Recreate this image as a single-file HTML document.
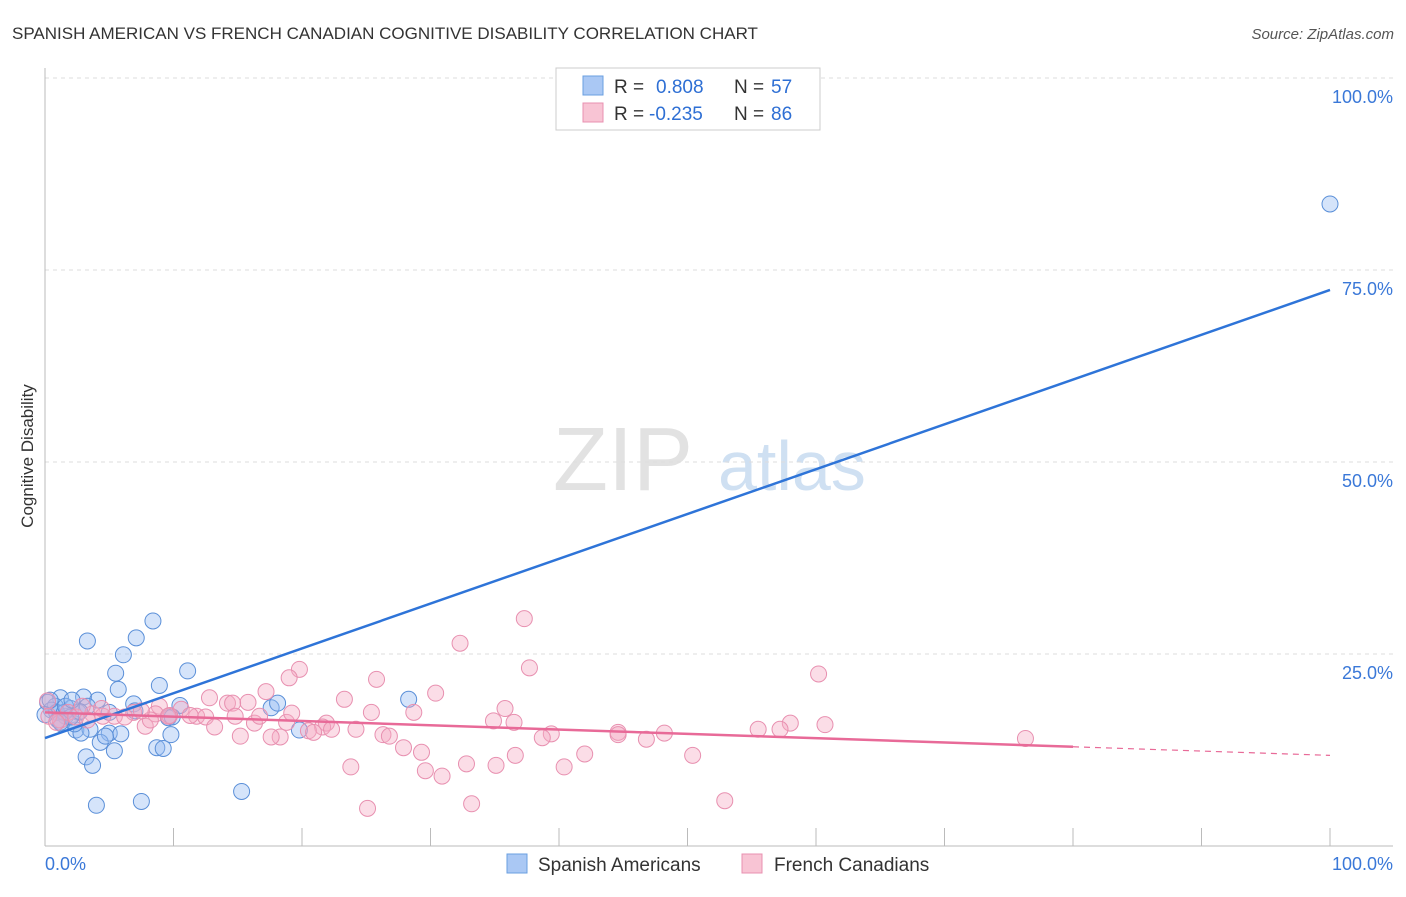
<!DOCTYPE html>
<html><head><meta charset="utf-8"><style>
body{margin:0;background:#fff;font-family:"Liberation Sans",sans-serif;}
svg text{font-family:"Liberation Sans",sans-serif;}
</style></head><body>
<svg id="c" width="1406" height="892">
<text x="12" y="39" font-size="17" fill="#333">SPANISH AMERICAN VS FRENCH CANADIAN COGNITIVE DISABILITY CORRELATION CHART</text>
<text x="1394" y="39" font-size="15" fill="#555" font-style="italic" text-anchor="end">Source: ZipAtlas.com</text>
<text x="33" y="456" font-size="17" fill="#333" transform="rotate(-90 33 456)" text-anchor="middle">Cognitive Disability</text>
<text x="553" y="490" font-size="90" fill="#e2e2e2" font-family="Liberation Serif">ZIP</text>
<text x="718" y="490" font-size="70" fill="#cfe0f2">atlas</text>
<g id="grid"></g><g id="pts"></g><g id="lines"></g>
<g>
<rect x="556" y="68" width="264" height="62" fill="#fff" stroke="#ccc"/>
<rect x="583" y="76" width="20" height="19" fill="#aac8f4" stroke="#6a9fe0"/>
<rect x="583" y="103" width="20" height="19" fill="#f8c4d4" stroke="#e890b0"/>
<text x="614" y="93" font-size="19" fill="#333">R =</text>
<text x="656" y="93" font-size="19" fill="#2e6fd4">0.808</text>
<text x="734" y="93" font-size="19" fill="#333">N =</text>
<text x="771" y="93" font-size="19" fill="#2e6fd4">57</text>
<text x="614" y="120" font-size="19" fill="#333">R =</text>
<text x="649" y="120" font-size="19" fill="#2e6fd4">-0.235</text>
<text x="734" y="120" font-size="19" fill="#333">N =</text>
<text x="771" y="120" font-size="19" fill="#2e6fd4">86</text>
</g>
<g>
<rect x="507" y="854" width="20" height="19" fill="#aac8f4" stroke="#6a9fe0"/>
<text x="538" y="871" font-size="19" fill="#333">Spanish Americans</text>
<rect x="742" y="854" width="20" height="19" fill="#f8c4d4" stroke="#e890b0"/>
<text x="774" y="871" font-size="19" fill="#333">French Canadians</text>
</g>
</svg>
<script>
const yTicks=[25,50,75,100];
const xTickLabels=["0.0%","100.0%"];
const blueX=[100,8.4,3.3,7.1,6.1,5.5,11.1,8.9,5.7,3,4.1,1.2,0.2,0.8,2,2.6,1.6,0.5,1.3,2.4,3.5,2.8,2.3,5,5.9,4.3,9.8,8.7,9.2,3.2,3.7,5.4,10.5,9.6,6.9,17.6,18.1,28.3,19.8,4,7.5,15.3,0.9,1.5,2,5,0.4,1,3.3,7,9.9,1.6,2.7,0,4.7,1.2,2.1];
const blueY=[83.6,29.3,26.7,27.1,24.9,22.5,22.8,20.9,20.4,19.4,19,19.3,18.7,18.2,17.9,17.4,16.9,17.7,15.9,15.1,15.2,14.7,15.9,14.7,14.6,13.5,14.5,12.8,12.7,11.6,10.5,12.4,18.3,16.7,18.5,18,18.6,19.1,15.1,5.3,5.8,7.1,17.4,17.4,16.8,17.4,19,16.4,18.2,17.6,16.8,18.2,17.5,17.1,14.3,16.1,19];
const pinkX=[37.3,32.3,37.7,60.2,19.8,19,25.8,17.2,12.8,30.4,23.3,15.8,14.2,14.6,35.8,8.9,10.6,6.9,5.4,3.7,11.8,25.4,28.7,14.8,18.8,21.9,21.6,36.5,34.9,39.4,44.6,48.2,55.5,58,60.7,57.2,20.5,22.3,20.9,24.2,26.3,26.8,18.3,17.6,15.2,38.7,44.6,46.8,27.9,29.3,36.6,42,50.4,23.8,32.8,35.1,40.4,29.6,30.9,76.3,52.9,25.1,33.2,4.5,6.2,7.8,1.2,1.8,0.3,2.4,3.3,8.6,9.7,11.3,12.5,13.2,16.3,16.7,19.2,0.2,0.9,2.9,4.4,8.2,7.5,9.6];
const pinkY=[29.6,26.4,23.2,22.4,23,21.9,21.7,20.1,19.3,19.9,19.1,18.7,18.6,18.6,17.9,18.2,17.8,17.4,16.9,17.2,16.9,17.4,17.4,16.9,16.1,16,15.5,16.1,16.3,14.6,14.8,14.7,15.2,16,15.8,15.2,15,15.2,14.8,15.2,14.5,14.3,14.2,14.2,14.3,14.1,14.5,13.9,12.8,12.2,11.8,11.98,11.8,10.3,10.7,10.5,10.3,9.8,9.1,14,5.9,4.9,5.5,16.9,16.8,15.6,16.4,17.4,16.9,16.8,16.4,17.2,17,17,16.8,15.5,16,16.9,17.3,18.9,16.1,18.2,17.9,16.4,17.6,16.9];
const blueFit=[14.06,72.4];
const pinkFit=[17.4,11.8];
const X=v=>45+v*12.85, Y=v=>846-v*7.68;
const NS='http://www.w3.org/2000/svg';
function mk(p,t,a){const e=document.createElementNS(NS,t);for(const k in a)e.setAttribute(k,a[k]);p.appendChild(e);return e;}
const g=document.getElementById('grid');
yTicks.forEach(t=>{
const l=mk(g,'line',{x1:45,x2:1393,y1:Y(t),y2:Y(t),stroke:'#ddd','stroke-dasharray':'4,4'});


const tx=mk(g,'text',{x:1393,y:Y(t)+25,'font-size':18,fill:'#3a78d8','text-anchor':'end'});tx.textContent=t.toFixed(1)+'%';


});
mk(g,'line',{x1:45,x2:45,y1:68,y2:846,stroke:'#bbb'});
mk(g,'line',{x1:45,x2:1393,y1:846,y2:846,stroke:'#bbb'});
for(let i=0;i<=10;i++){const t=mk(g,'line',{x1:X(i*10),x2:X(i*10),y1:828,y2:846,stroke:'#bbb'});

}
const x0=mk(g,'text',{x:45,y:870,'font-size':18,fill:'#3a78d8'});x0.textContent=xTickLabels[0];


const x1=mk(g,'text',{x:1393,y:870,'font-size':18,fill:'#3a78d8','text-anchor':'end'});x1.textContent=xTickLabels[1];


const P=document.getElementById('pts');
blueX.forEach((v,i)=>{const c=mk(P,'circle',{cx:X(v),cy:Y(blueY[i]),r:8,fill:'rgba(150,188,242,0.4)',stroke:'#5a8fd8','stroke-width':1});

});
pinkX.forEach((v,i)=>{const c=mk(P,'circle',{cx:X(v),cy:Y(pinkY[i]),r:8,fill:'rgba(245,170,195,0.4)',stroke:'#e890b0','stroke-width':1});

});
const L=document.getElementById('lines');
const bl=mk(L,'line',{x1:X(0),y1:Y(blueFit[0]),x2:X(100),y2:Y(blueFit[1]),stroke:'#2e74d8','stroke-width':2.5});


const pAt=x=>pinkFit[0]+(pinkFit[1]-pinkFit[0])*x/100;
const pl=mk(L,'line',{x1:X(0),y1:Y(pAt(0)),x2:X(80),y2:Y(pAt(80)),stroke:'#e86a98','stroke-width':2.5});


const pd=mk(L,'line',{x1:X(80),y1:Y(pAt(80)),x2:X(100),y2:Y(pAt(100)),stroke:'#e86a98','stroke-width':1.2,'stroke-dasharray':'6,5'});


</script>
</body></html>
